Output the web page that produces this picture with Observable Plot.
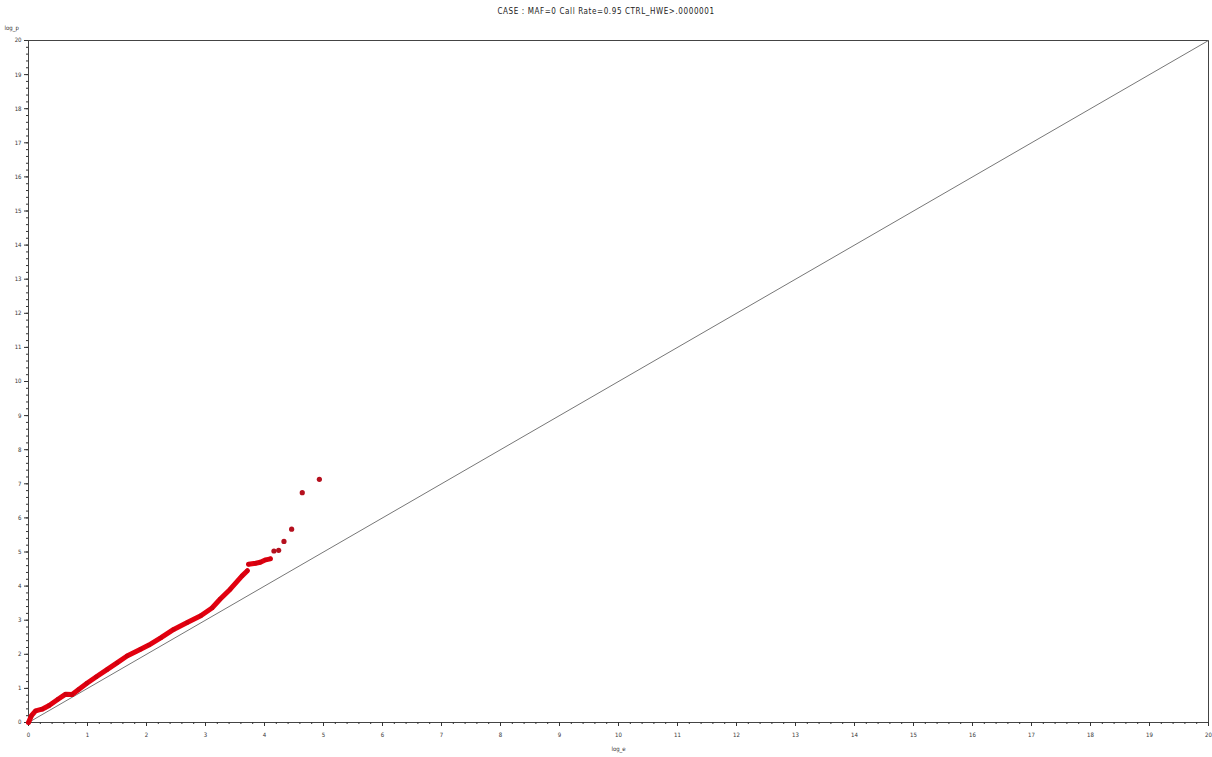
<!DOCTYPE html>
<html>
<head>
<meta charset="utf-8">
<script src="https://cdn.jsdelivr.net/npm/d3@7"></script>
<script src="https://cdn.jsdelivr.net/npm/@observablehq/plot@0.6"></script>
<style>
  html, body { margin: 0; padding: 0; background: #fff; }
  #title { width: 1212px; height: 22px; line-height: 24px; text-align: center;
           font-family: "Liberation Sans Narrow", "DejaVu Sans Condensed", sans-serif;
           font-size: 8px; color: #222; letter-spacing: 0.6px; }
</style>
</head>
<body>
<div id="title">CASE : MAF=0 Call Rate=0.95 CTRL_HWE&gt;.0000001</div>
<div id="chart"></div>
<script>
const curveExpected = [0, 0.05, 0.12, 0.23, 0.35, 0.5, 0.63, 0.74, 0.85, 0.99, 1.15, 1.33, 1.5, 1.67, 1.9, 2.04, 2.24, 2.46, 2.69, 2.92, 3.11, 3.25, 3.42, 3.62, 3.71];
const curveObserved = [0, 0.2, 0.34, 0.39, 0.5, 0.68, 0.83, 0.82, 0.97, 1.15, 1.34, 1.55, 1.75, 1.95, 2.15, 2.27, 2.48, 2.73, 2.93, 3.13, 3.36, 3.62, 3.91, 4.3, 4.45];
// Plateau segment
const plateauExpected = [3.73, 3.85, 3.93, 4.02, 4.10];
const plateauObserved = [4.64, 4.67, 4.70, 4.77, 4.80];
// Isolated tail points
const tailExpected = [4.16, 4.24, 4.33, 4.46, 4.64, 4.93];
const tailObserved = [5.03, 5.05, 5.31, 5.67, 6.74, 7.13];
// Axis ticks
const tickValues = [0,1,2,3,4,5,6,7,8,9,10,11,12,13,14,15,16,17,18,19,20];
const diagonal = [0, 20];

const curve = curveExpected.map((x, i) => ({x, y: curveObserved[i], seg: "a"}))
  .concat(plateauExpected.map((x, i) => ({x, y: plateauObserved[i], seg: "b"})));
const tail = tailExpected.map((x, i) => ({x, y: tailObserved[i]}));
const diag = diagonal.map(v => ({x: v, y: v}));
const minor = d3.range(0, 20.001, 0.2);

const font = "'Liberation Sans Narrow', 'DejaVu Sans Condensed', sans-serif";

const chart = Plot.plot({
  width: 1212,
  height: 735,
  marginTop: 18,
  marginBottom: 35,
  marginLeft: 28,
  marginRight: 4,
  style: {fontFamily: font, fontSize: "6px", color: "#333", background: "#fff"},
  x: {domain: [0, 20]},
  y: {domain: [0, 20]},
  marks: [
    Plot.frame({stroke: "#444", strokeWidth: 1}),
    Plot.axisX({ticks: minor, tickSize: 2, tickFormat: () => "", label: null}),
    Plot.axisY({ticks: minor, tickSize: 2, tickFormat: () => "", label: null}),
    Plot.axisX({ticks: tickValues, tickSize: 4, tickPadding: 6, label: "log_e", labelAnchor: "center", labelOffset: 28, labelArrow: "none"}),
    Plot.axisY({ticks: tickValues, tickSize: 4, tickPadding: 3, label: "log_p", labelAnchor: "top", labelOffset: 24, labelArrow: "none"}),
    Plot.line(diag, {x: "x", y: "y", stroke: "#777", strokeWidth: 1}),
    Plot.line(curve, {x: "x", y: "y", z: "seg", stroke: "#e3000f", strokeWidth: 5, strokeLinecap: "round", strokeLinejoin: "round"}),
    Plot.dot(curve, {x: "x", y: "y", r: 2.2, fill: "#d0000f"}),
    Plot.dot(tail, {x: "x", y: "y", r: 2.6, fill: "#b5101e"})
  ]
});
document.getElementById("chart").appendChild(chart);
</script>
</body>
</html>
